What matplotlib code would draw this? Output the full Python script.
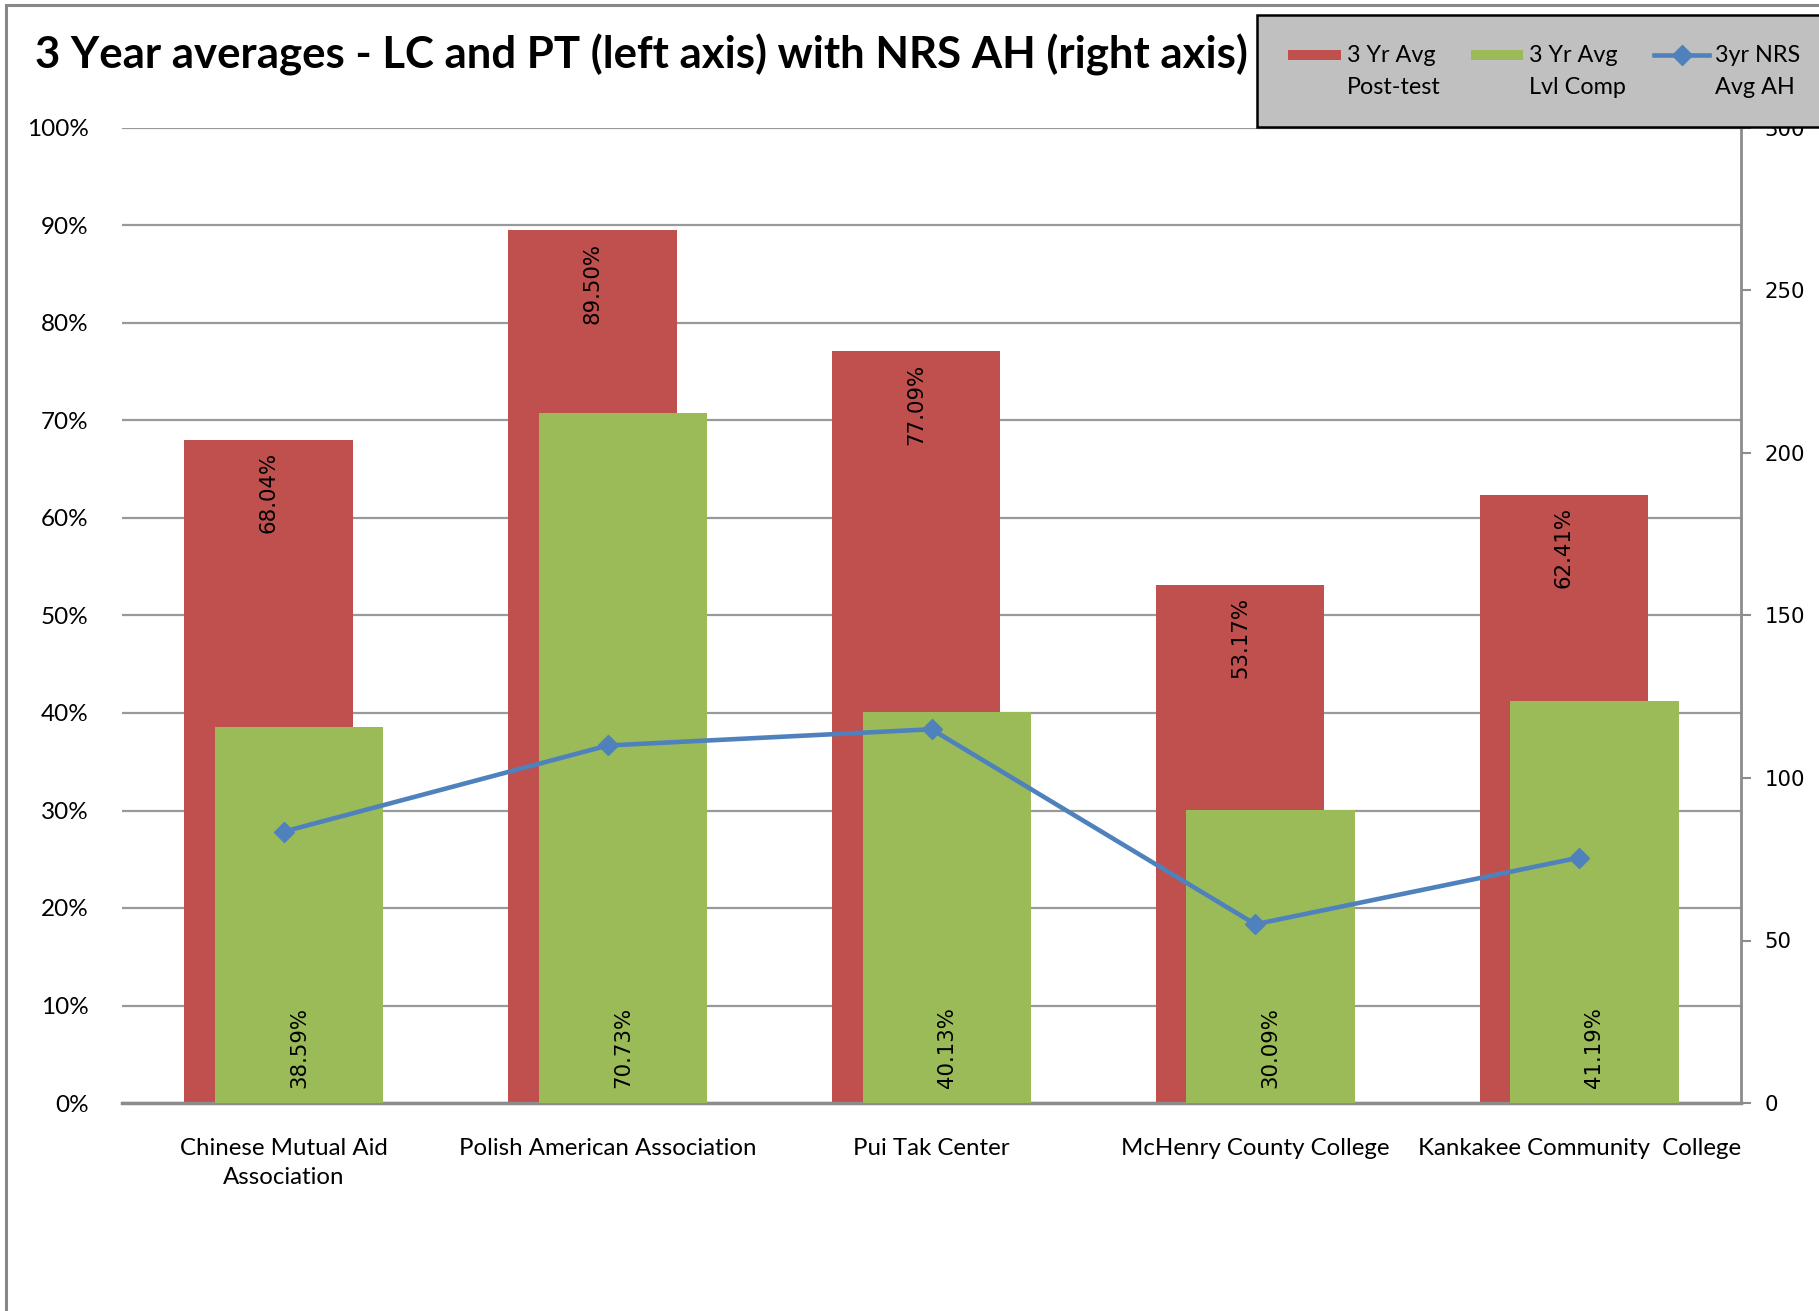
import matplotlib
matplotlib.use('Agg')
import matplotlib.pyplot as plt
from matplotlib.patches import Rectangle
from matplotlib.lines import Line2D
import numpy as np

# data
sites = ['Chinese Mutual Aid\nAssociation', 'Polish American Association',
         'Pui Tak Center', 'McHenry County College', 'Kankakee Community  College']
post_test = [68.04, 89.50, 77.09, 53.17, 62.41]     # 3 Yr Avg Post-test (%)
lvl_comp = [38.59, 70.73, 40.13, 30.09, 41.19]      # 3 Yr Avg Lvl Comp (%)
nrs_ah = [83.5, 110, 115, 55, 75.5]                 # 3yr NRS Avg AH (right axis)

RED = '#C0504D'
GREEN = '#9BBB59'
BLUE = '#4F81BD'
GRID = '#999999'
CAL = 'Lato'          # stand-in for Calibri
VER = 'DejaVu Sans'   # stand-in for Verdana

W, H = 1819, 1311
fig = plt.figure(figsize=(W / 100, H / 100), dpi=100)
ax = fig.add_axes([122 / W, 1 - 1103 / H, (1741 - 122) / W, (1103 - 128) / H])
ax2 = ax.twinx()

x = np.arange(len(sites))
bw = 0.52
off = 0.047
red_bars = ax.bar(x - off, post_test, width=bw, color=RED, zorder=2)
green_bars = ax.bar(x + off, lvl_comp, width=bw, color=GREEN, zorder=3)

for b, v in zip(red_bars, post_test):
    ax.annotate(f'{v:.2f}%', (b.get_x() + b.get_width() / 2, v), xytext=(0, -9),
                textcoords='offset points', rotation=90, ha='center', va='top',
                fontsize=15.3, family=VER, zorder=4)
for b, v in zip(green_bars, lvl_comp):
    ax.annotate(f'{v:.2f}%', (b.get_x() + b.get_width() / 2, 0), xytext=(0, 11),
                textcoords='offset points', rotation=90, ha='center', va='bottom',
                fontsize=15.3, family=VER, zorder=4)

ax.set_xlim(-0.5, len(sites) - 0.5)
ax.set_ylim(0, 100)
ax.set_yticks(np.arange(0, 101, 10))
ax.set_yticklabels([f'{t}%' for t in range(0, 101, 10)], family=CAL, fontsize=17.5)
ax.yaxis.grid(True, color=GRID, lw=1.6)
ax.set_axisbelow(True)
ax.tick_params(axis='y', length=0, pad=24)
ax.set_xticks(x)
ax.set_xticklabels(sites, family=CAL, fontsize=17.3, linespacing=1.5)
ax.tick_params(axis='x', length=0, pad=25)
for s in ['left', 'top', 'right']:
    ax.spines[s].set_visible(False)
ax.spines['bottom'].set_color('#8c8c8c')
ax.spines['bottom'].set_linewidth(2.5)

ax2.plot(x, nrs_ah, color=BLUE, lw=3.3, marker='D', markersize=10.5, zorder=5)
ax2.set_ylim(0, 300)
ax2.set_yticks(np.arange(0, 301, 50))
ax2.set_yticklabels([str(t) for t in range(0, 301, 50)], family=VER, fontsize=15.3)
ax2.tick_params(axis='y', length=7, width=1.5, color='#8c8c8c', pad=10)
for s in ['left', 'top', 'bottom']:
    ax2.spines[s].set_visible(False)
ax2.spines['right'].set_color('#8c8c8c')
ax2.spines['right'].set_linewidth(2)

# outer chart frame
fig.patches.append(Rectangle((6 / W, -0.1), 1.2, 1.1 - 5 / H, transform=fig.transFigure,
                             fill=False, edgecolor='#888888', lw=2.2))

fig.text(35 / W, 1 - 55 / H, '3 Year averages - LC and PT (left axis) with NRS AH (right axis)',
         family=CAL, fontweight='bold', fontsize=31.5, va='center', ha='left')

# legend box (Excel style, items with two-line labels)
fig.patches.append(Rectangle((1257 / W, 1 - 127 / H), 0.4, 112 / H, transform=fig.transFigure,
                             facecolor='#C0C0C0', edgecolor='black', lw=1.8, zorder=10))
y1 = 1 - 55 / H
y2 = 1 - 87 / H
fig.patches.append(Rectangle((1288 / W, y1 - 5 / H), 53 / W, 10 / H, transform=fig.transFigure,
                             facecolor=RED, edgecolor='none', zorder=11))
fig.patches.append(Rectangle((1471 / W, y1 - 5 / H), 52 / W, 10 / H, transform=fig.transFigure,
                             facecolor=GREEN, edgecolor='none', zorder=11))
fig.lines.append(Line2D([1654 / W, 1709 / W], [y1, y1], transform=fig.transFigure,
                        color=BLUE, lw=3.3, zorder=11))
fig.lines.append(Line2D([1682 / W], [y1], transform=fig.transFigure, color=BLUE,
                        marker='D', markersize=10.5, zorder=12))
legend_text = [(1347, '3 Yr Avg', 'Post-test'), (1529, '3 Yr Avg', 'Lvl Comp'),
               (1715, '3yr NRS', 'Avg AH')]
for px, l1, l2 in legend_text:
    fig.text(px / W, y1, l1, family=CAL, fontsize=16.8, va='center', ha='left', zorder=12)
    fig.text(px / W, y2, l2, family=CAL, fontsize=16.8, va='center', ha='left', zorder=12)

fig.savefig('out.png', dpi=100)
